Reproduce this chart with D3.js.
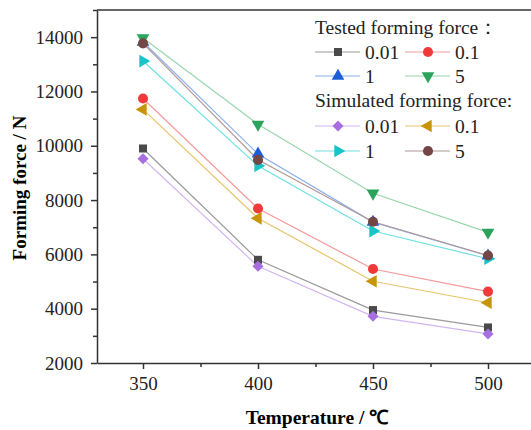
<!DOCTYPE html>
<html>
<head>
<meta charset="utf-8">
<script src="https://cdn.jsdelivr.net/npm/d3@7"></script>
<style>
  body { margin: 0; background: #fff; }
</style>
</head>
<body>
<div id="chart"></div>
<script>
// temperatures (deg C)
const temps = [350, 400, 450, 500];

// tested forming force (N)
const tested001 = [9900, 5800, 3950, 3310];
const tested01 = [11740, 7690, 5460, 4630];
const tested1 = [13820, 9700, 7190, 5950];
const tested5 = [13970, 10790, 8250, 6810];

// simulated forming force (N)
const sim001 = [9520, 5560, 3720, 3070];
const sim01 = [11340, 7330, 5010, 4220];
const sim1 = [13120, 9260, 6860, 5840];
const sim5 = [13770, 9480, 7200, 5960];

const yTicks = [2000, 4000, 6000, 8000, 10000, 12000, 14000];
const xTicks = [350, 400, 450, 500];

const serif = "'Liberation Serif', 'Times New Roman', serif";

const series = [
    { name: "0.01", values: tested001, color: "#4a4a4a", line: "#9a9a9a", shape: d3.symbolSquare, rot: 0, size: 64 },
    { name: "0.1", values: tested01, color: "#f03a3a", line: "#f49a9a", shape: d3.symbolCircle, rot: 0, size: 80 },
    { name: "1", values: tested1, color: "#1b5fd8", line: "#8cb0ee", shape: d3.symbolTriangle, rot: 0, size: 70 },
    { name: "5", values: tested5, color: "#2aa45c", line: "#98d6ac", shape: d3.symbolTriangle, rot: 180, size: 70 },
    { name: "0.01", values: sim001, color: "#a66ee0", line: "#d2b6f2", shape: d3.symbolSquare, rot: 45, size: 60 },
    { name: "0.1", values: sim01, color: "#c8940a", line: "#e6c46a", shape: d3.symbolTriangle, rot: -90, size: 70 },
    { name: "1", values: sim1, color: "#18c4c8", line: "#6ee0e2", shape: d3.symbolTriangle, rot: 90, size: 70 },
    { name: "5", values: sim5, color: "#744646", line: "#b09896", shape: d3.symbolCircle, rot: 0, size: 80 }
];

const width = 531, height = 430;
const margin = { top: 10, left: 97, bottom: 67, right: -3 };

const svg = d3.select("#chart").append("svg")
    .attr("width", width)
    .attr("height", height)
    .style("font-family", serif);

const x = d3.scaleLinear()
    .domain([330, 520])
    .range([margin.left, width - margin.right]);

const y = d3.scaleLinear()
    .domain([2000, 15000])
    .range([height - margin.bottom, margin.top]);

// lines
const line = d3.line()
    .x((d, i) => x(temps[i]))
    .y(d => y(d));

series.forEach(s => {
    svg.append("path")
        .datum(s.values)
        .attr("fill", "none")
        .attr("stroke", s.line)
        .attr("stroke-width", 1.2)
        .attr("d", line);
});

// markers
series.forEach(s => {
    svg.append("g")
        .selectAll("path")
        .data(s.values)
        .join("path")
        .attr("d", d3.symbol(s.shape, s.size))
        .attr("transform", (d, i) => `translate(${x(temps[i])},${y(d)}) rotate(${s.rot})`)
        .attr("fill", s.color);
});

// axes
svg.append("g")
    .attr("transform", `translate(0,${height - margin.bottom})`)
    .call(d3.axisBottom(x).tickValues(xTicks).tickSize(6).tickSizeOuter(0).tickPadding(8).tickFormat(d3.format("d")));
svg.append("g")
    .attr("transform", `translate(0,${height - margin.bottom})`)
    .call(d3.axisBottom(x).tickValues([375, 425, 475]).tickSize(4).tickFormat(""))
    .call(g => g.select(".domain").remove());

svg.append("g")
    .attr("transform", `translate(${margin.left},0)`)
    .call(d3.axisLeft(y).tickValues(yTicks).tickSize(6).tickSizeOuter(0).tickPadding(8).tickFormat(d3.format("d")));
svg.append("g")
    .attr("transform", `translate(${margin.left},0)`)
    .call(d3.axisLeft(y).tickValues(d3.range(3000, 15001, 2000)).tickSize(4).tickFormat(""))
    .call(g => g.select(".domain").remove());

svg.selectAll(".domain, .tick line")
    .attr("stroke", "#333")
    .attr("stroke-width", 1.5);
svg.selectAll(".tick text")
    .attr("fill", "#222")
    .style("font-family", serif)
    .style("font-size", "19px");

// top frame
svg.append("line")
    .attr("x1", margin.left).attr("x2", width)
    .attr("y1", margin.top).attr("y2", margin.top)
    .attr("stroke", "#333").attr("stroke-width", 1.5);

// axis titles
svg.append("text")
    .attr("x", 317).attr("y", 424)
    .attr("text-anchor", "middle")
    .style("font-size", "19.5px").style("font-weight", "bold")
    .text("Temperature / ℃");

svg.append("text")
    .attr("transform", "translate(26,188) rotate(-90)")
    .attr("text-anchor", "middle")
    .style("font-size", "19px").style("font-weight", "bold")
    .text("Forming force / N");

// legend
const legend = svg.append("g");
const headers = [["Tested forming force：", 34], ["Simulated forming force:", 107]];
headers.forEach(h => {
    legend.append("text")
        .attr("x", 315).attr("y", h[1])
        .style("font-size", "19.5px")
        .attr("fill", "#222")
        .text(h[0]);
});
const rowY = [52, 76, 126, 151];
const colX = [315, 405];
series.forEach((s, i) => {
    const ry = rowY[Math.floor(i / 2)];
    const cx = colX[i % 2];
    legend.append("line")
        .attr("x1", cx).attr("x2", cx + 45)
        .attr("y1", ry).attr("y2", ry)
        .attr("stroke", s.line).attr("stroke-width", 1.2);
    legend.append("path")
        .attr("d", d3.symbol(s.shape, s.size))
        .attr("transform", `translate(${cx + 23},${ry}) rotate(${s.rot})`)
        .attr("fill", s.color);
    legend.append("text")
        .attr("x", cx + 50).attr("y", ry + 7)
        .style("font-size", "19.5px")
        .attr("fill", "#222")
        .text(s.name);
});
</script>
</body>
</html>
